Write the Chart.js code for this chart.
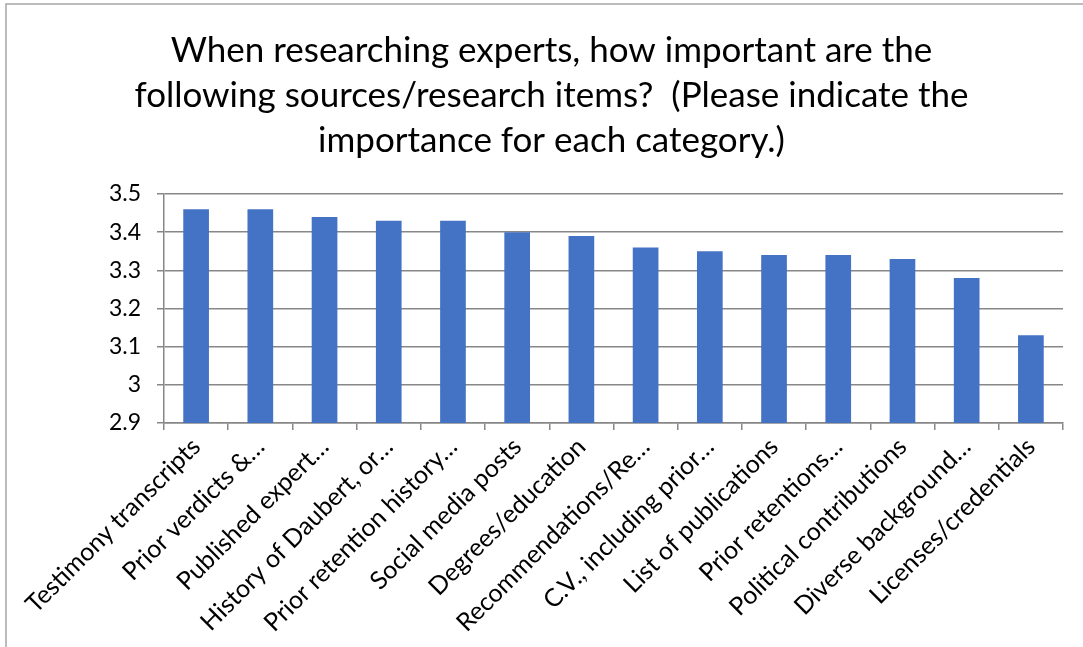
<!DOCTYPE html>
<html lang="en">
	<head>
		<meta charset="UTF-8">
		<title>Expert research sources</title>
		<script src="https://cdn.jsdelivr.net/npm/chart.js"></script>
		<style>
			body { margin: 0; background: #fff; }
		</style>
	</head>
	<body>
		<canvas id="chart" width="1083" height="647"></canvas>

		<script>
			// Data
			const titleLines = [
				'When researching experts, how important are the',
				'following sources/research items?  (Please indicate the',
				'importance for each category.)'
			];
			const categories = [
				'Testimony transcripts',
				'Prior verdicts &\u2026',
				'Published expert\u2026',
				'History of Daubert, or\u2026',
				'Prior retention history\u2026',
				'Social media posts',
				'Degrees/education',
				'Recommendations/Re\u2026',
				'C.V., including prior\u2026',
				'List of publications',
				'Prior retentions\u2026',
				'Political contributions',
				'Diverse background\u2026',
				'Licenses/credentials'
			];
			const importance = [3.46, 3.46, 3.44, 3.43, 3.43, 3.40, 3.39, 3.36, 3.35, 3.34, 3.34, 3.33, 3.28, 3.13];
			const yMin = 2.9, yMax = 3.5, yStep = 0.1;

			const gridColor = '#878787';
			const fontFamily = 'Lato, "Liberation Sans", sans-serif';

			// light frame at the top and left edge like the original screenshot
			const framePlugin = {
				id: 'frame',
				afterDraw(chart) {
					const ctx = chart.ctx;
					ctx.save();
					ctx.strokeStyle = '#a6a6a6';
					ctx.lineWidth = 1.5;
					ctx.beginPath();
					ctx.moveTo(6, chart.height);
					ctx.lineTo(6, 4);
					ctx.lineTo(chart.width, 4);
					ctx.stroke();
					ctx.restore();
				}
			};

			const ctx = document.getElementById('chart').getContext('2d');
			new Chart(ctx, {
				type: 'bar',
				data: {
					labels: categories,
					datasets: [{
						data: importance,
						backgroundColor: '#4472C4',
						barPercentage: 0.4,
						categoryPercentage: 1.0
					}]
				},
				options: {
					responsive: false,
					animation: false,
					layout: {
						padding: { left: 40, right: 20, top: 0, bottom: 0 }
					},
					plugins: {
						legend: { display: false },
						tooltip: { enabled: false },
						title: {
							display: true,
							text: titleLines,
							color: '#000',
							font: { family: fontFamily, size: 35, weight: 'normal', lineHeight: 45 / 35 },
							padding: { top: 28, bottom: 31 }
						}
					},
					scales: {
						x: {
							grid: {
								drawOnChartArea: false,
								drawTicks: true,
								tickLength: 7,
								color: gridColor,
								lineWidth: 1.5
							},
							border: { color: gridColor, width: 1.5 },
							ticks: {
								color: '#000',
								font: { family: fontFamily, size: 25 },
								maxRotation: 45,
								minRotation: 45,
								autoSkip: false,
								padding: 2
							},
							afterFit(scale) { scale.height = 224; }
						},
						y: {
							min: yMin,
							max: yMax,
							grid: {
								color: gridColor,
								lineWidth: 1.5,
								tickLength: 7
							},
							border: { color: gridColor, width: 1.5 },
							ticks: {
								stepSize: yStep,
								color: '#000',
								font: { family: fontFamily, size: 23 },
								padding: 16,
								callback: v => String(+v.toFixed(1))
							},
							afterFit(scale) { scale.width = 124; }
						}
					}
				},
				plugins: [framePlugin]
			});
		</script>
	</body>
</html>
